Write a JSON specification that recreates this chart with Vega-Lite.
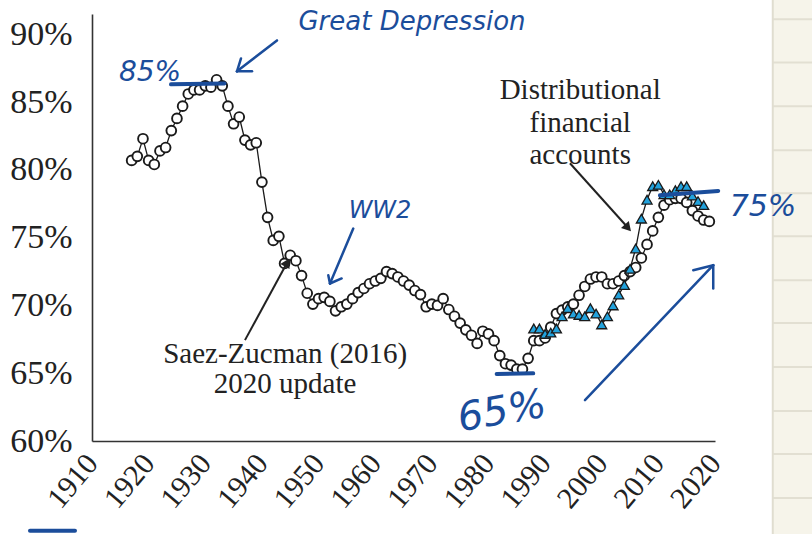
{
  "$schema": "https://vega.github.io/schema/vega-lite/v6.json",
  "width": 623,
  "height": 427,
  "autosize": {"type": "none"},
  "padding": {"left": 92, "top": 14, "right": 97, "bottom": 93},
  "background": "white",
  "config": {"view": {"stroke": null}},
  "datasets": {
    "paper": [{"year": 2030.2, "year2": 2050, "share": 96, "share2": 50}],
    "paperlines": [
      {"year": 2030.2, "year2": 2050, "share": 91.12},
      {"year": 2030.2, "year2": 2050, "share": 87.93},
      {"year": 2030.2, "year2": 2050, "share": 84.69},
      {"year": 2030.2, "year2": 2050, "share": 81.44},
      {"year": 2030.2, "year2": 2050, "share": 78.28},
      {"year": 2030.2, "year2": 2050, "share": 75.11},
      {"year": 2030.2, "year2": 2050, "share": 71.86},
      {"year": 2030.2, "year2": 2050, "share": 68.70},
      {"year": 2030.2, "year2": 2050, "share": 65.45},
      {"year": 2030.2, "year2": 2050, "share": 62.21},
      {"year": 2030.2, "year2": 2050, "share": 59.04},
      {"year": 2030.2, "year2": 2050, "share": 55.80}
    ],
    "paperedge": [{"year": 2030.2, "share": 96, "share2": 50}],
    "sz": [
      {"year": 1917, "share": 80.7}, {"year": 1918, "share": 81.0}, {"year": 1919, "share": 82.3},
      {"year": 1920, "share": 80.7}, {"year": 1921, "share": 80.4}, {"year": 1922, "share": 81.4},
      {"year": 1923, "share": 81.65}, {"year": 1924, "share": 82.9}, {"year": 1925, "share": 83.8},
      {"year": 1926, "share": 84.7}, {"year": 1927, "share": 85.6}, {"year": 1928, "share": 85.9},
      {"year": 1929, "share": 85.9}, {"year": 1930, "share": 86.2}, {"year": 1931, "share": 86.1},
      {"year": 1932, "share": 86.65}, {"year": 1933, "share": 86.2}, {"year": 1934, "share": 84.7},
      {"year": 1935, "share": 83.4}, {"year": 1936, "share": 83.9}, {"year": 1937, "share": 82.2},
      {"year": 1938, "share": 81.85}, {"year": 1939, "share": 82.0}, {"year": 1940, "share": 79.1},
      {"year": 1941, "share": 76.5}, {"year": 1942, "share": 74.8}, {"year": 1943, "share": 75.1},
      {"year": 1944, "share": 73.1}, {"year": 1945, "share": 73.7}, {"year": 1946, "share": 73.3},
      {"year": 1947, "share": 72.2}, {"year": 1948, "share": 70.9}, {"year": 1949, "share": 70.1},
      {"year": 1950, "share": 70.5}, {"year": 1951, "share": 70.6}, {"year": 1952, "share": 70.3},
      {"year": 1953, "share": 69.6}, {"year": 1954, "share": 69.9}, {"year": 1955, "share": 70.1},
      {"year": 1956, "share": 70.5}, {"year": 1957, "share": 70.95}, {"year": 1958, "share": 71.25},
      {"year": 1959, "share": 71.6}, {"year": 1960, "share": 71.8}, {"year": 1961, "share": 72.0},
      {"year": 1962, "share": 72.5}, {"year": 1963, "share": 72.35}, {"year": 1964, "share": 72.1},
      {"year": 1965, "share": 71.8}, {"year": 1966, "share": 71.5}, {"year": 1967, "share": 71.1},
      {"year": 1968, "share": 70.8}, {"year": 1969, "share": 69.9}, {"year": 1970, "share": 70.1},
      {"year": 1971, "share": 70.0}, {"year": 1972, "share": 70.5}, {"year": 1973, "share": 69.7},
      {"year": 1974, "share": 69.2}, {"year": 1975, "share": 68.7}, {"year": 1976, "share": 68.2},
      {"year": 1977, "share": 67.8}, {"year": 1978, "share": 67.2}, {"year": 1979, "share": 68.1},
      {"year": 1980, "share": 67.9}, {"year": 1981, "share": 67.4}, {"year": 1982, "share": 66.3},
      {"year": 1983, "share": 65.7}, {"year": 1984, "share": 65.6}, {"year": 1985, "share": 65.3},
      {"year": 1986, "share": 65.3}, {"year": 1987, "share": 66.1}, {"year": 1988, "share": 67.4},
      {"year": 1989, "share": 67.4}, {"year": 1990, "share": 67.6}, {"year": 1991, "share": 68.4},
      {"year": 1992, "share": 69.4}, {"year": 1993, "share": 69.65}, {"year": 1994, "share": 69.9},
      {"year": 1995, "share": 70.1}, {"year": 1996, "share": 70.75}, {"year": 1997, "share": 71.4},
      {"year": 1998, "share": 71.95}, {"year": 1999, "share": 72.1}, {"year": 2000, "share": 72.1},
      {"year": 2001, "share": 71.6}, {"year": 2002, "share": 71.6}, {"year": 2003, "share": 71.8},
      {"year": 2004, "share": 72.2}, {"year": 2005, "share": 72.5}, {"year": 2006, "share": 72.8},
      {"year": 2007, "share": 73.5}, {"year": 2008, "share": 74.5}, {"year": 2009, "share": 75.5},
      {"year": 2010, "share": 76.5}, {"year": 2011, "share": 77.4}, {"year": 2012, "share": 77.8},
      {"year": 2013, "share": 77.9}, {"year": 2014, "share": 77.9}, {"year": 2015, "share": 77.6},
      {"year": 2016, "share": 77.0}, {"year": 2017, "share": 76.6}, {"year": 2018, "share": 76.3},
      {"year": 2019, "share": 76.2}
    ],
    "dfa": [
      {"year": 1988, "share": 68.3}, {"year": 1989, "share": 68.3}, {"year": 1990, "share": 67.9},
      {"year": 1991, "share": 68.0}, {"year": 1992, "share": 68.3}, {"year": 1993, "share": 69.2},
      {"year": 1994, "share": 69.8}, {"year": 1995, "share": 69.4}, {"year": 1996, "share": 69.3},
      {"year": 1997, "share": 69.2}, {"year": 1998, "share": 69.8}, {"year": 1999, "share": 69.4},
      {"year": 2000, "share": 68.6}, {"year": 2001, "share": 69.2}, {"year": 2002, "share": 70.0},
      {"year": 2003, "share": 70.8}, {"year": 2004, "share": 71.5}, {"year": 2005, "share": 72.7},
      {"year": 2006, "share": 74.2}, {"year": 2007, "share": 76.4}, {"year": 2008, "share": 77.8},
      {"year": 2009, "share": 78.8}, {"year": 2010, "share": 78.9}, {"year": 2011, "share": 78.2},
      {"year": 2012, "share": 78.2}, {"year": 2013, "share": 78.5}, {"year": 2014, "share": 78.8},
      {"year": 2015, "share": 78.8}, {"year": 2016, "share": 78.1}, {"year": 2017, "share": 77.7},
      {"year": 2018, "share": 77.4}
    ],
    "blacklabels": [
      {"year": 1996.2, "share": 85.87, "label": "Distributional"},
      {"year": 1996.2, "share": 83.44, "label": "financial"},
      {"year": 1996.2, "share": 81.08, "label": "accounts"},
      {"year": 1944.1, "share": 66.4, "label": "Saez-Zucman (2016)"},
      {"year": 1944.1, "share": 64.2, "label": "2020 update"}
    ],
    "blackshafts": [
      {"year": 1937.01, "share": 67.44, "year2": 1944.3, "share2": 73.04},
      {"year": 1994.39, "share": 80.49, "year2": 2004.4, "share2": 75.84}
    ],
    "headsz": [{"year": 1944.45, "share": 73.17}],
    "headdfa": [{"year": 2004.63, "share": 75.73}],
    "blueunder": [
      {"year": 1923.95, "share": 86.31, "year2": 1933.4, "share2": 86.38},
      {"year": 1981.45, "share": 64.94, "year2": 1987.9, "share2": 64.99},
      {"year": 2010.28, "share": 78.13, "year2": 2020.57, "share2": 78.45},
      {"year": 1899.05, "share": 53.37, "year2": 1907.0, "share2": 53.37}
    ],
    "bluearrows": [
      {"year": 1942.66, "share": 89.55, "year2": 1935.6, "share2": 87.27},
      {"year": 1935.6, "share": 87.27, "year2": 1936.31, "share2": 88.22},
      {"year": 1935.6, "share": 87.27, "year2": 1938.25, "share2": 87.27},
      {"year": 1956.13, "share": 75.67, "year2": 1952.02, "share2": 71.62},
      {"year": 1952.02, "share": 71.62, "year2": 1951.72, "share2": 72.23},
      {"year": 1952.02, "share": 71.62, "year2": 1954.08, "share2": 71.99},
      {"year": 1997.04, "share": 63.02, "year2": 2019.69, "share2": 72.97},
      {"year": 2019.69, "share": 72.97, "year2": 2016.16, "share2": 72.6},
      {"year": 2019.69, "share": 72.97, "year2": 2019.69, "share2": 71.25}
    ],
    "bluelabels": [
      {"year": 1966.5, "share": 90.88, "label": "Great Depression", "size": "m"},
      {"year": 1920.24, "share": 87.12, "label": "85%", "size": "l"},
      {"year": 1960.85, "share": 76.95, "label": "WW2", "size": "s"},
      {"year": 2028.47, "share": 77.24, "label": "75%", "size": "xl"}
    ],
    "bluelow": [{"year": 1982.39, "share": 62.14, "label": "65%"}]
  },
  "encoding": {
    "x": {
      "field": "year",
      "type": "quantitative",
      "scale": {"domain": [1910, 2020], "nice": false, "zero": false},
      "axis": {
        "title": null,
        "values": [1910, 1920, 1930, 1940, 1950, 1960, 1970, 1980, 1990, 2000, 2010, 2020],
        "format": "d",
        "labelAngle": -50,
        "labelFont": "Liberation Serif",
        "labelFontSize": 30,
        "labelColor": "#222222",
        "ticks": false,
        "grid": false,
        "domainColor": "#333333",
        "domainWidth": 1.6,
        "labelPadding": 17,
        "labelFlush": false,
        "labelOverlap": false,
        "labelBound": false
      }
    },
    "y": {
      "field": "share",
      "type": "quantitative",
      "scale": {"domain": [60, 91.5], "nice": false, "zero": false},
      "axis": {
        "title": null,
        "values": [60, 65, 70, 75, 80, 85, 90],
        "labelExpr": "datum.value + '%'",
        "labelFont": "Liberation Serif",
        "labelFontSize": 34,
        "labelColor": "#222222",
        "ticks": false,
        "grid": false,
        "domainColor": "#333333",
        "domainWidth": 1.6,
        "labelPadding": 20,
        "labelFlush": false,
        "labelOverlap": false
      }
    }
  },
  "layer": [
    {
      "data": {"name": "paper"},
      "mark": {"type": "rect", "fill": "#f6f4ea"},
      "encoding": {"x2": {"field": "year2"}, "y2": {"field": "share2"}}
    },
    {
      "data": {"name": "paperlines"},
      "mark": {"type": "rule", "stroke": "#e2dfd2", "strokeWidth": 2},
      "encoding": {"x2": {"field": "year2"}}
    },
    {
      "data": {"name": "paperedge"},
      "mark": {"type": "rule", "stroke": "#e0ddd0", "strokeWidth": 2},
      "encoding": {"y2": {"field": "share2"}}
    },
    {
      "data": {"name": "sz"},
      "mark": {"type": "line", "stroke": "#1a1a1a", "strokeWidth": 1.3}
    },
    {
      "data": {"name": "sz"},
      "mark": {"type": "point", "shape": "circle", "filled": true, "fill": "white", "stroke": "#1a1a1a", "strokeWidth": 1.9, "size": 95, "opacity": 1}
    },
    {
      "data": {"name": "dfa"},
      "mark": {"type": "line", "stroke": "#1a1a1a", "strokeWidth": 1.3}
    },
    {
      "data": {"name": "dfa"},
      "mark": {"type": "point", "shape": "triangle-up", "filled": true, "fill": "#22a2dc", "stroke": "#1a1a1a", "strokeWidth": 1.3, "size": 100, "opacity": 1}
    },
    {
      "data": {"name": "blacklabels"},
      "mark": {"type": "text", "font": "Liberation Serif", "fontSize": 29, "color": "#222222", "align": "center", "baseline": "middle"},
      "encoding": {"text": {"field": "label"}}
    },
    {
      "data": {"name": "blackshafts"},
      "mark": {"type": "rule", "stroke": "#222222", "strokeWidth": 2},
      "encoding": {"x2": {"field": "year2"}, "y2": {"field": "share2"}}
    },
    {
      "data": {"name": "headsz"},
      "mark": {"type": "point", "shape": "triangle-up", "filled": true, "fill": "#222222", "size": 110, "angle": 28.5, "opacity": 1}
    },
    {
      "data": {"name": "headdfa"},
      "mark": {"type": "point", "shape": "triangle-up", "filled": true, "fill": "#222222", "size": 110, "angle": 138, "opacity": 1}
    },
    {
      "data": {"name": "blueunder"},
      "mark": {"type": "rule", "stroke": "#1b4d9b", "strokeWidth": 4, "strokeCap": "round"},
      "encoding": {"x2": {"field": "year2"}, "y2": {"field": "share2"}}
    },
    {
      "data": {"name": "bluearrows"},
      "mark": {"type": "rule", "stroke": "#1b4d9b", "strokeWidth": 2.5, "strokeCap": "round"},
      "encoding": {"x2": {"field": "year2"}, "y2": {"field": "share2"}}
    },
    {
      "data": {"name": "bluelabels"},
      "mark": {"type": "text", "font": "DejaVu Sans", "fontStyle": "italic", "color": "#1b4d9b", "align": "center", "baseline": "middle"},
      "encoding": {
        "text": {"field": "label"},
        "size": {"field": "size", "type": "nominal", "scale": {"domain": ["s", "m", "l", "xl"], "range": [24, 30, 42, 46]}, "legend": null}
      }
    },
    {
      "data": {"name": "bluelow"},
      "mark": {"type": "text", "font": "DejaVu Sans", "fontStyle": "italic", "fontSize": 40, "angle": -10, "color": "#1b4d9b", "align": "center", "baseline": "middle"},
      "encoding": {"text": {"field": "label"}}
    }
  ]
}
